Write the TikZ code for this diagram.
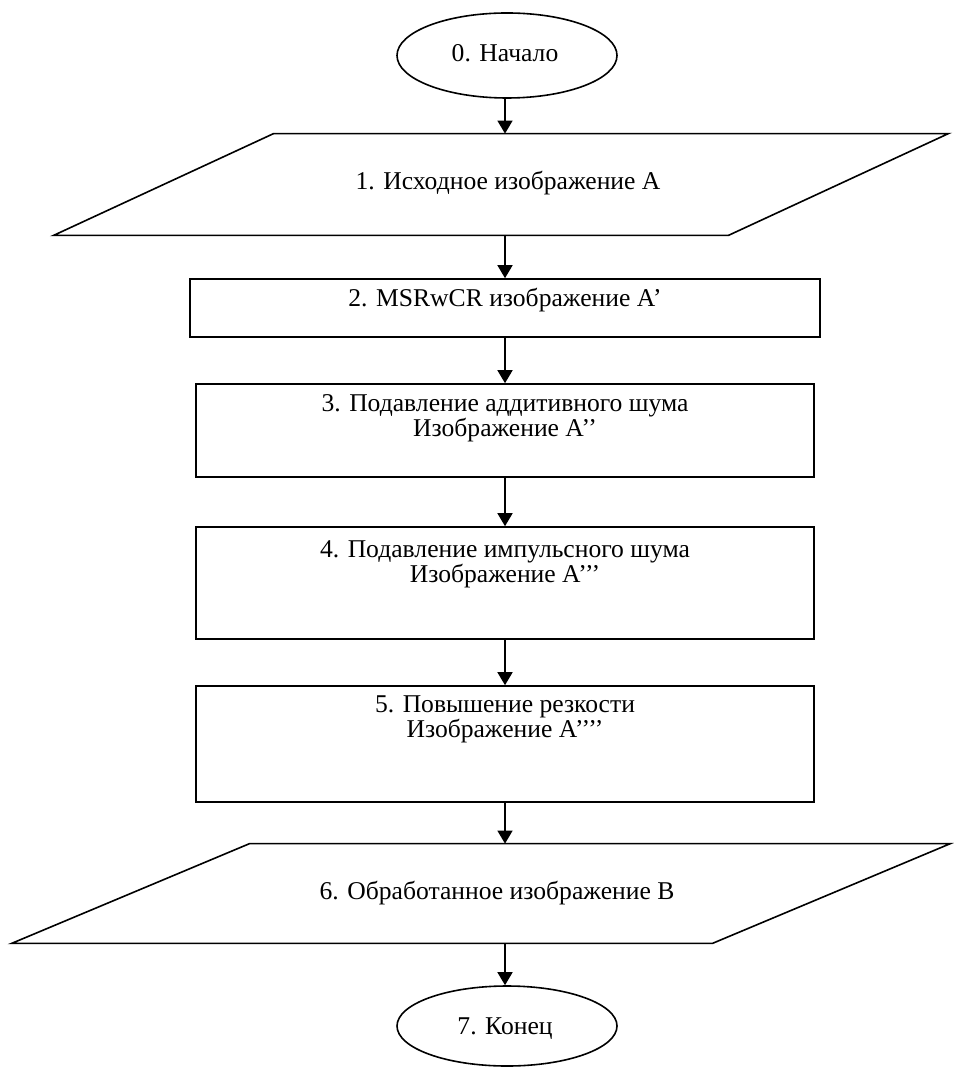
\documentclass[tikz,border=0pt]{standalone}
\usepackage{fontspec}
\setmainfont{Liberation Serif}
\usetikzlibrary{shapes.geometric,arrows.meta}
\begin{document}
\begin{tikzpicture}[x=0.5pt,y=-0.5pt,
  every node/.style={font=\fontsize{12.8}{12.5}\selectfont, inner sep=0pt},
  term/.style={ellipse, draw, line width=0.8pt},
  box/.style={rectangle, draw, line width=0.8pt},
  ghost/.style={rectangle, draw=none},
  txt/.style={align=center},
  conn/.style={line width=0.8pt, -{Triangle[width=7.5pt,length=6.5pt]}},
  lw/.style={line width=0.8pt, line join=miter}]
\useasboundingbox (0,0) rectangle (953,1068);

% 0
\node[term, minimum width=110pt, minimum height=42.5pt] (e0) at (507,55.5) {};
\node[txt] (t0) at (505,53) {0. Начало};
% 1
\node[ghost, minimum width=337pt, minimum height=50.5pt] (p1) at (501,184.5) {};
\node[txt] (t1) at (508,183) {1. Исходное изображение А};
\draw[lw] ([xshift=-55pt]p1.south west) -- ([xshift=-55pt]p1.south east)
  -- ([xshift=55pt]p1.north east) -- ([xshift=55pt]p1.north west) -- cycle;
% 2
\node[box, minimum width=315pt, minimum height=29pt] (b2) at (505,308) {};
\node[txt] (t2) at (505,300) {2. MSRwCR изображение А’};
% 3
\node[box, minimum width=309pt, minimum height=46.5pt] (b3) at (505,430.5) {};
\node[txt] (t3) at (505,418) {3. Подавление аддитивного шума\\Изображение А’’};
% 4
\node[box, minimum width=309pt, minimum height=56pt] (b4) at (505,583) {};
\node[txt] (t4) at (505,564) {4. Подавление импульсного шума\\Изображение А’’’};
% 5
\node[box, minimum width=309pt, minimum height=58pt] (b5) at (505,744) {};
\node[txt] (t5) at (505,719) {5. Повышение резкости\\Изображение А’’’’};
% 6
\node[ghost, minimum width=350pt, minimum height=49.5pt] (p6) at (481,893.5) {};
\node[txt] (t6) at (497,893) {6. Обработанное изображение В};
\draw[lw] ([xshift=-59.5pt]p6.south west) -- ([xshift=-59.5pt]p6.south east)
  -- ([xshift=59.5pt]p6.north east) -- ([xshift=59.5pt]p6.north west) -- cycle;
% 7
\node[term, minimum width=110pt, minimum height=40pt] (e7) at (507,1026) {};
\node[txt] (t7) at (505,1029) {7. Конец};

% connectors
\draw[conn] (t0.south |- e0.south) -- (t0.south |- p1.north);
\draw[conn] (b2.north |- p1.south) -- (b2.north);
\draw[conn] (b2.south) -- (b3.north);
\draw[conn] (b3.south) -- (b4.north);
\draw[conn] (b4.south) -- (b5.north);
\draw[conn] (b5.south) -- (b5.south |- p6.north);
\draw[conn] (b5.south |- p6.south) -- (b5.south |- e7.north);
\end{tikzpicture}
\end{document}
